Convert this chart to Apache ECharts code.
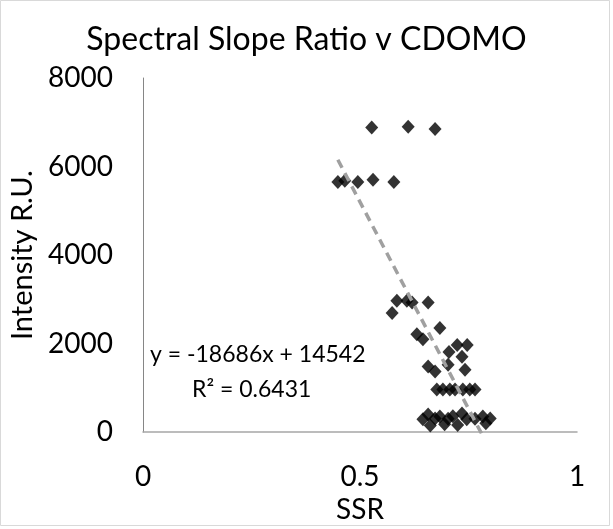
<!DOCTYPE html>
<html>
<head>
<meta charset="utf-8">
<script src="https://cdn.jsdelivr.net/npm/echarts@6.0.0/dist/echarts.min.js"></script>
<style>
  html, body { margin: 0; padding: 0; background: #fff; }
  #main { width: 613px; height: 529px; }
</style>
</head>
<body>
<div id="main"></div>
<script>
// 数据
var ssr = [
  0.527, 0.611, 0.673,
  0.449, 0.465, 0.495, 0.530, 0.578,
  0.585, 0.608, 0.620, 0.657, 0.574, 0.631, 0.645, 0.684,
  0.724, 0.747, 0.705, 0.735, 0.657, 0.673, 0.703, 0.742,
  0.677, 0.691, 0.707, 0.719, 0.737, 0.753, 0.765,
  0.645, 0.657, 0.673, 0.684, 0.703, 0.714, 0.735, 0.746, 0.765, 0.783, 0.800,
  0.662, 0.695, 0.725, 0.790
]
var intensity = [
  6880, 6900, 6850,
  5650, 5680, 5650, 5700, 5650,
  2970, 2970, 2930, 2930, 2690, 2210, 2100, 2350,
  1970, 1970, 1810, 1700, 1480, 1370, 1520, 1410,
  960, 960, 960, 960, 960, 960, 960,
  290, 400, 310, 350, 300, 360, 420, 290, 300, 350, 310,
  150, 180, 160, 200
]
var xTicks = ['0', '0.5', '1']
var yTicks = ['0', '2000', '4000', '6000', '8000']
// trendline from the chart's own equation
var slope = -18686
var intercept = 14542
var eqText = 'y = -18686x + 14542'
var r2Text = 'R² = 0.6431'

var points = []
for (var i = 0; i < ssr.length; i++) {
  points.push([ssr[i], intensity[i]])
}
var xMin = Math.min.apply(null, ssr)
var xMax = Math.max.apply(null, ssr)
var trend = [[xMin, slope * xMin + intercept], [xMax, slope * xMax + intercept]]

var font = 'Lato'
var dom = document.getElementById('main')
var myChart = echarts.init(dom)
var option = {
  backgroundColor: '#fff',
  animation: false,
  title: {
    text: 'Spectral Slope Ratio v CDOMO',
    left: 'center',
    top: 19,
    textStyle: { fontFamily: font, fontSize: 32, fontWeight: 'normal', color: '#000' }
  },
  grid: { left: 143, right: 36, top: 78, bottom: 82 },
  xAxis: {
    type: 'value',
    min: 0, max: 1, interval: 0.5,
    name: 'SSR',
    nameLocation: 'middle',
    nameGap: 62,
    nameTextStyle: { fontFamily: font, fontSize: 28, color: '#000' },
    axisLine: { show: true, lineStyle: { color: '#a6a6a6', width: 1.5 } },
    axisTick: { show: false },
    splitLine: { show: false },
    axisLabel: {
      fontFamily: font, fontSize: 28, color: '#000', margin: 31,
      formatter: function (v) { return xTicks[Math.round(v * 2)] }
    }
  },
  yAxis: {
    type: 'value',
    min: 0, max: 8000, interval: 2000,
    name: 'Intensity R.U.',
    nameLocation: 'middle',
    nameGap: 106,
    nameTextStyle: { fontFamily: font, fontSize: 29, color: '#000' },
    axisLine: { show: true, lineStyle: { color: '#868686', width: 1 } },
    axisTick: { show: false },
    splitLine: { show: false },
    axisLabel: {
      fontFamily: font, fontSize: 28, color: '#000', margin: 30,
      formatter: function (v) { return yTicks[Math.round(v / 2000)] }
    }
  },
  graphic: [
    { type: 'rect', shape: { x: 0.5, y: 0.5, width: 609, height: 525 }, style: { fill: null, stroke: '#d9d9d9', lineWidth: 1 }, silent: true },
    { type: 'text', left: 150, top: 343, style: { text: eqText, font: '23px Lato', fill: '#000' } },
    { type: 'text', left: 192, top: 378, style: { text: r2Text, font: '23px Lato', fill: '#000' } }
  ],
  series: [
    {
      type: 'line',
      data: trend,
      symbol: 'none',
      z: 3,
      lineStyle: { color: '#a0a0a0', width: 3.5, type: [9, 6] }
    },
    {
      type: 'scatter',
      data: points,
      symbol: 'diamond',
      symbolSize: [13, 14],
      z: 2,
      itemStyle: { color: '#000' }
    }
  ]
}
myChart.setOption(option)
</script>
</body>
</html>
